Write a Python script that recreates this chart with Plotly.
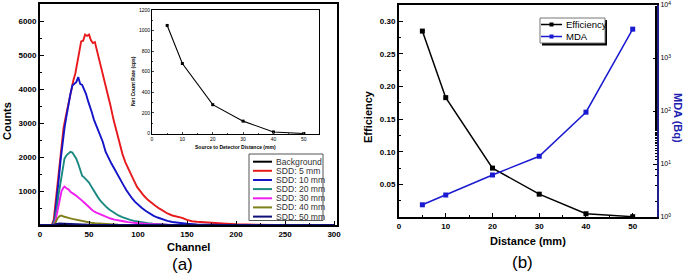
import plotly.graph_objects as go

W, H = 685, 277
def px(x): return x / W
def py(y): return 1 - y / H

# ---------------- data ----------------
series_names = ["Background", "SDD: 5 mm", "SDD: 10 mm", "SDD: 20 mm", "SDD: 30 mm", "SDD: 40 mm", "SDD: 50 mm"]
series_colors = ["#000000", "#e8191c", "#1414c8", "#1a8a80", "#f01ef0", "#80801a", "#10107a"]

bg_ch = [0, 300]
bg_counts = [0, 0]

red_ch = [0, 12, 14, 16, 18, 20, 22, 24, 26, 28, 30, 32, 34, 36, 38, 40, 42, 44, 46, 48, 50, 52, 54, 56, 58, 60,
          63, 66, 69, 72, 75, 78, 81, 84, 87, 90, 93, 96, 99, 102, 106, 110, 114, 118, 122, 126, 130, 135, 140,
          145, 150, 155, 160, 170, 180, 190, 200, 210, 225, 240, 300]
red_counts = [0, 0, 150, 700, 1300, 1850, 2450, 2850, 3150, 3450, 3700, 3950, 4250, 4450, 4750, 5050, 5400, 5420,
              5600, 5560, 5600, 5430, 5350, 5380, 5150, 4950, 4600, 4250, 3900, 3500, 3100, 2750, 2400, 2100, 1850,
              1650, 1450, 1300, 1120, 1000, 860, 740, 640, 560, 480, 400, 340, 280, 250, 210, 150, 110, 95, 70, 55,
              35, 20, 10, 3, 0, 0]

blue_ch = [0, 13, 15, 17, 19, 21, 23, 25, 27, 29, 31, 33, 35, 37, 39, 41, 43, 45, 47, 49, 51, 53, 55, 57, 59, 61,
           64, 67, 70, 73, 76, 79, 82, 85, 88, 91, 94, 97, 100, 104, 108, 112, 116, 120, 125, 130, 135, 140, 150,
           160, 175, 190, 300]
blue_counts = [0, 0, 200, 700, 1300, 1900, 2400, 2850, 3200, 3550, 3850, 4100, 4150, 4200, 4350, 4150, 4120, 4000,
               3850, 3650, 3500, 3300, 3100, 2950, 2800, 2650, 2450, 2150, 1950, 1800, 1650, 1480, 1320, 1180, 1030,
               900, 780, 680, 590, 500, 410, 330, 270, 220, 160, 120, 90, 65, 35, 15, 5, 0, 0]

teal_ch = [0, 13, 15, 17, 19, 21, 23, 25, 27, 29, 31, 33, 35, 37, 39, 41, 43, 45, 47, 50, 53, 56, 59, 62, 65, 68,
           71, 74, 77, 80, 84, 88, 92, 96, 100, 105, 110, 115, 120, 130, 145, 160, 300]
teal_counts = [0, 0, 150, 450, 900, 1300, 1700, 1950, 2050, 2100, 2150, 2130, 2050, 1950, 1800, 1650, 1450, 1400,
               1350, 1250, 1100, 950, 820, 700, 600, 520, 450, 390, 330, 280, 230, 180, 150, 120, 95, 70, 50, 35,
               25, 12, 4, 0, 0]

mag_ch = [0, 14, 16, 18, 20, 22, 24, 25, 27, 29, 31, 33, 35, 37, 39, 42, 45, 48, 51, 54, 57, 60, 64, 68, 72, 76,
          80, 85, 90, 95, 100, 110, 120, 135, 150, 300]
mag_counts = [0, 0, 150, 450, 750, 1000, 1100, 1130, 1080, 1050, 980, 950, 900, 860, 820, 740, 660, 570, 480, 420,
              370, 330, 280, 230, 190, 160, 130, 110, 85, 65, 50, 30, 15, 5, 0, 0]

olive_ch = [0, 14, 16, 18, 20, 22, 24, 26, 28, 30, 33, 36, 40, 44, 48, 52, 56, 60, 65, 70, 80, 95, 300]
olive_counts = [0, 0, 80, 200, 260, 280, 250, 240, 220, 200, 180, 160, 130, 110, 80, 65, 50, 40, 30, 20, 10, 0, 0]

navy_ch = [0, 14, 17, 20, 25, 30, 40, 50, 60, 80, 300]
navy_counts = [0, 0, 30, 45, 40, 30, 20, 10, 5, 0, 0]

spectra_ch = [bg_ch, red_ch, blue_ch, teal_ch, mag_ch, olive_ch, navy_ch]
spectra_counts = [bg_counts, red_counts, blue_counts, teal_counts, mag_counts, olive_counts, navy_counts]

inset_dist = [5, 10, 20, 30, 40, 50]
inset_rate = [1050, 680, 280, 120, 15, 0]

dist = [5, 10, 20, 30, 40, 50]
efficiency = [0.285, 0.183, 0.075, 0.035, 0.005, 0.0005]
mda = [1.7, 2.6, 6.2, 14, 95, 3500]

x_ticks_a = [0, 50, 100, 150, 200, 250, 300]
y_ticks_a = [1000, 2000, 3000, 4000, 5000, 6000]
inset_xticks = [0, 10, 20, 30, 40, 50]
inset_yticks = [0, 200, 400, 600, 800, 1000, 1200]
x_ticks_b = [0, 10, 20, 30, 40, 50]
eff_ticks = [0.05, 0.10, 0.15, 0.20, 0.25, 0.30]
mda_ticks = [1, 10, 100, 1000, 10000]
mda_ticktext = ["10<sup>0</sup>", "10<sup>1</sup>", "10<sup>2</sup>", "10<sup>3</sup>", "10<sup>4</sup>"]

MDA_BLUE = "#1a1ad0"
FONT = "Liberation Sans"

fig = go.Figure()

for name, col, ch, cts in zip(series_names, series_colors, spectra_ch, spectra_counts):
    fig.add_trace(go.Scatter(x=ch, y=cts, mode="lines", name=name, line=dict(color=col, width=1.9),
                             xaxis="x", yaxis="y", showlegend=False))

fig.add_trace(go.Scatter(x=inset_dist, y=inset_rate, mode="lines+markers", line=dict(color="black", width=1.1),
                         marker=dict(symbol="square", size=3, color="black"), xaxis="x2", yaxis="y2",
                         showlegend=False))

fig.add_trace(go.Scatter(x=dist, y=efficiency, mode="lines+markers", name="Efficiency",
                         line=dict(color="black", width=1.5), marker=dict(symbol="square", size=5, color="black"),
                         xaxis="x3", yaxis="y3", showlegend=False))
fig.add_trace(go.Scatter(x=dist, y=mda, mode="lines+markers", name="MDA",
                         line=dict(color=MDA_BLUE, width=1.5), marker=dict(symbol="square", size=5, color=MDA_BLUE),
                         xaxis="x3", yaxis="y4", showlegend=False))

tick_font = dict(family=FONT, size=8, color="black", weight="bold")
small_font = dict(family=FONT, size=5, color="black")

def frame_axis(**kw):
    d = dict(showline=True, linecolor="black", linewidth=2, mirror=True, ticks="inside", ticklen=4,
             tickwidth=1.3, tickcolor="black", showgrid=False, zeroline=False, tickfont=tick_font,
             automargin=False)
    d.update(kw)
    return d

fig.update_layout(
    width=W, height=H, margin=dict(l=0, r=0, t=0, b=0, autoexpand=False), paper_bgcolor="white",
    plot_bgcolor="rgba(0,0,0,0)", showlegend=False,
    xaxis=frame_axis(domain=[px(40), px(337)], range=[0, 303], anchor="y", tickvals=x_ticks_a,
                     minor=dict(ticks="inside", ticklen=2, dtick=25, tickcolor="black")),
    yaxis=frame_axis(domain=[py(225), py(4)], range=[0, 6500], anchor="x", tickvals=y_ticks_a,
                     minor=dict(ticks="inside", ticklen=2, dtick=500, tickcolor="black")),
    xaxis2=dict(domain=[px(152), px(319)], range=[0, 55], anchor="y2", showline=True, linecolor="black",
                linewidth=1, mirror=True, ticks="inside", ticklen=2, tickwidth=0.8, showgrid=False,
                zeroline=False, tickvals=inset_xticks, tickfont=small_font, automargin=False,
                minor=dict(ticks="inside", ticklen=1, dtick=5)),
    yaxis2=dict(domain=[py(134), py(10)], range=[-5, 1200], anchor="x2", showline=True, linecolor="black",
                linewidth=1, mirror=True, ticks="inside", ticklen=2, tickwidth=0.8, showgrid=False,
                zeroline=False, tickvals=inset_yticks, tickfont=small_font, automargin=False,
                minor=dict(ticks="inside", ticklen=1, dtick=100)),
    xaxis3=frame_axis(domain=[px(399), px(657)], range=[0, 55.2], anchor="y3", tickvals=x_ticks_b,
                      minor=dict(ticks="inside", ticklen=2, dtick=5, tickcolor="black")),
    yaxis3=frame_axis(domain=[py(217), py(5)], range=[0, 0.325], anchor="x3", tickvals=eff_ticks,
                      tickformat=".2f", mirror=False,
                      minor=dict(ticks="inside", ticklen=2, dtick=0.025, tickcolor="black")),
    yaxis4=dict(overlaying="y3", side="right", anchor="x3", type="log", range=[0, 4], showline=True,
                linecolor="#20208a", linewidth=2, ticks="inside", ticklen=4, tickwidth=1.3, tickcolor="black",
                showgrid=False, zeroline=False, tickvals=mda_ticks, ticktext=mda_ticktext, automargin=False,
                tickfont=dict(family=FONT, size=7, color="black"),
                minor=dict(ticks="inside", ticklen=2, tickcolor="black")),
)

ann = []
def text(x, y, t, size, angle=0, color="black", weight="normal", xanchor="center"):
    ann.append(dict(x=px(x), y=py(y), xref="paper", yref="paper", text=t, showarrow=False, textangle=angle,
                    font=dict(family=FONT, size=size, color=color, weight=weight), xanchor=xanchor,
                    yanchor="middle"))

text(7, 121, "Counts", 11, angle=-90, weight="bold")
text(188, 247, "Channel", 11, weight="bold")
text(183, 264, "(a)", 17)
text(133, 81, "Net Count Rate (cps)", 5, angle=-90, weight="bold")
text(235, 147, "Source to Detector Distance (mm)", 5, weight="bold")
text(368, 117, "Efficiency", 11, angle=-90, weight="bold")
text(678, 118, "MDA (Bq)", 11, angle=90, weight="bold", color="#2020b0")
text(528, 241, "Distance (mm)", 11, weight="bold")
text(522, 262, "(b)", 17)

shapes = []
# legend (a)
shapes.append(dict(type="rect", xref="paper", yref="paper", x0=px(249), x1=px(323), y0=py(220.5), y1=py(154),
                   line=dict(color="#555555", width=1), fillcolor="white"))
row_y = [161.7, 170.8, 180.0, 189.1, 198.3, 207.4, 216.6]
for name, col, ry in zip(series_names, series_colors, row_y):
    shapes.append(dict(type="line", xref="paper", yref="paper", x0=px(253), x1=px(272), y0=py(ry), y1=py(ry),
                       line=dict(color=col, width=2)))
    text(274, ry, name, 8.6, color="#333333", xanchor="left")

# legend (b) with shadow
shapes.append(dict(type="rect", xref="paper", yref="paper", x0=px(542), x1=px(607), y0=py(45.5), y1=py(20),
                   line=dict(width=0), fillcolor="black"))
shapes.append(dict(type="rect", xref="paper", yref="paper", x0=px(540), x1=px(605), y0=py(43), y1=py(18),
                   line=dict(color="#777777", width=1), fillcolor="white"))
for name, col, ry in zip(["Efficiency", "MDA"], ["black", MDA_BLUE], [24.5, 36.5]):
    shapes.append(dict(type="line", xref="paper", yref="paper", x0=px(541), x1=px(562), y0=py(ry), y1=py(ry),
                       line=dict(color=col, width=1.5)))
    shapes.append(dict(type="rect", xref="paper", yref="paper", x0=px(549.5), x1=px(553.5), y0=py(ry + 2),
                       y1=py(ry - 2), line=dict(width=0), fillcolor=col))
    text(564, ry, name, 9.5, xanchor="left")

fig.update_layout(annotations=ann, shapes=shapes)
fig.write_html("out.html", config={"displayModeBar": False},
               post_script="document.body.style.margin='0';document.body.style.overflow='hidden';")
